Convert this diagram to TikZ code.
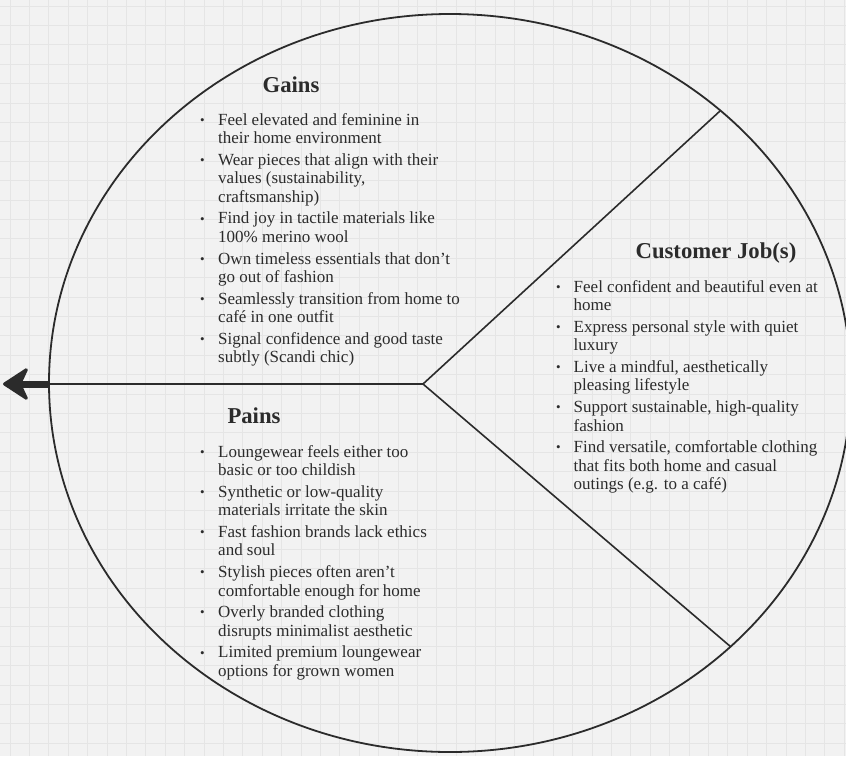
\documentclass[tikz,border=0pt]{standalone}
\usepackage{fontspec}
\setmainfont{Liberation Serif}
\usetikzlibrary{arrows.meta,positioning}
\definecolor{ink}{HTML}{2B2B2B}
\definecolor{paper}{HTML}{F2F2F2}
\definecolor{gridline}{HTML}{E5E5E5}
\tikzset{
    head/.style={
    font=\fontsize{22.7}{26}\selectfont\bfseries,text=ink,inner sep=0pt,anchor=base
    },
    body/.style={
    font=\fontsize{17}{18.7}\selectfont,text=ink,inner sep=0pt,anchor=base west
    },
    seg/.style={
    draw=ink,line width=1.6pt
    },
    bigarrow/.style={
    draw=ink,line width=7pt,-{Stealth[length=0pt 4,width=0pt 5.2,inset=0pt 1.2,round,line width=3pt]}
    },
}
\newcommand{\bul}{\raisebox{0.5pt}{\fontsize{13}{13}\selectfont\textbullet}}

\begin{document}
\begin{tikzpicture}[x=1pt,y=-1pt]
   \fill[paper] (0,0) rectangle (846,756);
   \clip (0,0) rectangle (846,756);
   % grid
   \foreach \gx in {0,...,43}
      \draw[gridline,line width=0.8pt] ({10+19.4*\gx},0) -- ({10+19.4*\gx},756);
   \foreach \gy in {0,...,38}
      \draw[gridline,line width=0.8pt] (0,{6+19.4*\gy}) -- (846,{6+19.4*\gy});

   \draw[ink,line width=1.8pt] (450,383) ellipse [x radius=401,y radius=369];

   \coordinate (hub) at (423,384);
   \coordinate (rimU) at (720,111);
   \coordinate (rimL) at (731,647);
   \coordinate (rimW) at (49,384);
   \coordinate (tip) at (3,384);

   \draw[seg] (hub) -- (rimU);
   \draw[seg] (hub) -- (rimL);
   \draw[seg] (hub) -- (rimW);
   \draw[bigarrow] (rimW) -- (tip);

   \node[head] (gainsT) at (291,92) {Gains};
   \node[head] (jobsT) at (716,258) {Customer Job(s)};
   \node[head] (painsT) at (254,423) {Pains};

   \node[body] (gains) at (200,125) {\begin{tabular}[t]{@{}p{18pt}@{}l@{}}
      \bul & Feel elevated and feminine in\\
           & their home environment\\[2.7pt]
      \bul & Wear pieces that align with their\\
           & values (sustainability,\\
           & craftsmanship)\\[2.7pt]
      \bul & Find joy in tactile materials like\\
           & 100\% merino wool\\[2.7pt]
      \bul & Own timeless essentials that don’t\\
           & go out of fashion\\[2.7pt]
      \bul & Seamlessly transition from home to\\
           & café in one outfit\\[2.7pt]
      \bul & Signal confidence and good taste\\
           & subtly (Scandi chic)
   \end{tabular}};

   \node[body] (jobs) at (556,292) {\begin{tabular}[t]{@{}p{17.5pt}@{}l@{}}
      \bul & Feel confident and beautiful even at\\
           & home\\[2.7pt]
      \bul & Express personal style with quiet\\
           & luxury\\[2.7pt]
      \bul & Live a mindful, aesthetically\\
           & pleasing lifestyle\\[2.7pt]
      \bul & Support sustainable, high-quality\\
           & fashion\\[2.7pt]
      \bul & Find versatile, comfortable clothing\\
           & that fits both home and casual\\
           & outings (e.g. to a café)
   \end{tabular}};

   \node[body] (pains) at (200,457) {\begin{tabular}[t]{@{}p{18pt}@{}l@{}}
      \bul & Loungewear feels either too\\
           & basic or too childish\\[2.7pt]
      \bul & Synthetic or low-quality\\
           & materials irritate the skin\\[2.7pt]
      \bul & Fast fashion brands lack ethics\\
           & and soul\\[2.7pt]
      \bul & Stylish pieces often aren’t\\
           & comfortable enough for home\\[2.7pt]
      \bul & Overly branded clothing\\
           & disrupts minimalist aesthetic\\[2.7pt]
      \bul & Limited premium loungewear\\
           & options for grown women
   \end{tabular}};
\end{tikzpicture}
\end{document}
